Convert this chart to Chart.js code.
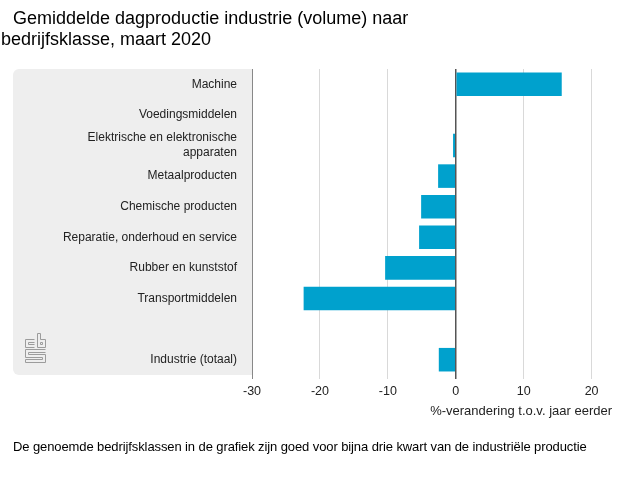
<!DOCTYPE html>
<html lang="nl">
<head>
    <meta charset="UTF-8">
    <title>Gemiddelde dagproductie industrie</title>
    <script src="https://cdn.jsdelivr.net/npm/chart.js"></script>
    <style>
        body { margin: 0; background: #fff; font-family: "Liberation Sans", Arial, sans-serif; }
        #wrap { position: relative; width: 640px; height: 480px; }
        #chart { position: absolute; left: 0; top: 0; }
        .title { position: absolute; font-size: 18px; line-height: 21px; color: #000; white-space: nowrap; }
        .note { position: absolute; left: 13px; top: 439px; font-size: 13px; letter-spacing: -0.1px; color: #000; white-space: nowrap; }
    </style>
</head>
<body>
<div id="wrap">
    <canvas id="chart" width="640" height="480"></canvas>
    <div class="title" style="left:13px; top:8px;">Gemiddelde dagproductie industrie (volume) naar</div>
    <div class="title" style="left:1px; top:29px;">bedrijfsklasse, maart 2020</div>
    <div class="note">De genoemde bedrijfsklassen in de grafiek zijn goed voor bijna drie kwart van de industriële productie</div>
</div>

<script>
    // Bedrijfsklassen (lege regel tussen Transportmiddelen en totaal)
    const categories = [
        'Machine',
        'Voedingsmiddelen',
        ['Elektrische en elektronische', 'apparaten'],
        'Metaalproducten',
        'Chemische producten',
        'Reparatie, onderhoud en service',
        'Rubber en kunststof',
        'Transportmiddelen',
        '',
        'Industrie (totaal)'
    ];

    // %-verandering t.o.v. jaar eerder
    const changes = [15.6, 0, -0.4, -2.6, -5.1, -5.4, -10.4, -22.4, null, -2.5];

    const xTicks = [-30, -20, -10, 0, 10, 20];
    const axisTitle = '%-verandering t.o.v. jaar eerder';

    // grey panel behind the category labels
    const panelPlugin = {
        id: 'panel',
        beforeDraw(chart) {
            const {ctx, chartArea} = chart;
            const yScale = chart.scales.y;
            const x0 = 13, x1 = yScale.right;
            const y0 = chartArea.top, y1 = chartArea.bottom;
            ctx.save();
            ctx.fillStyle = '#eeeeee';
            ctx.beginPath();
            ctx.roundRect(x0, y0, x1 - x0, y1 - y0, [6, 0, 0, 6]);
            ctx.fill();
            ctx.restore();
        }
    };

    // small cbs mark in the bottom-left corner of the panel
    const logoPlugin = {
        id: 'logo',
        afterDraw(chart) {
            const ctx = chart.ctx;
            ctx.save();
            ctx.strokeStyle = '#9c9c9c';
            ctx.lineWidth = 1;
            ctx.beginPath();
            // c
            ctx.moveTo(34.5, 339.5); ctx.lineTo(25.5, 339.5); ctx.lineTo(25.5, 347.5); ctx.lineTo(34.5, 347.5);
            ctx.moveTo(34.5, 342.5); ctx.lineTo(28.5, 342.5); ctx.lineTo(28.5, 344.5); ctx.lineTo(34.5, 344.5);
            // b
            ctx.moveTo(37.5, 333.5); ctx.lineTo(37.5, 347.5); ctx.lineTo(45.5, 347.5); ctx.lineTo(45.5, 339.5); ctx.lineTo(40.5, 339.5);
            ctx.lineTo(40.5, 333.5); ctx.lineTo(37.5, 333.5);
            ctx.rect(40.5, 342.5, 2, 2);
            // s
            ctx.moveTo(45.5, 349.5); ctx.lineTo(25.5, 349.5); ctx.lineTo(25.5, 357.5); ctx.lineTo(42.5, 357.5);
            ctx.lineTo(42.5, 359.5); ctx.lineTo(25.5, 359.5); ctx.lineTo(25.5, 362.5); ctx.lineTo(45.5, 362.5);
            ctx.lineTo(45.5, 354.5); ctx.lineTo(28.5, 354.5); ctx.lineTo(28.5, 352.5); ctx.lineTo(45.5, 352.5);
            ctx.stroke();
            ctx.restore();
        }
    };

    const ctx = document.getElementById('chart').getContext('2d');
    new Chart(ctx, {
        type: 'bar',
        data: {
            labels: categories,
            datasets: [{
                data: changes,
                backgroundColor: '#00a1cd',
                borderWidth: 0,
                categoryPercentage: 1,
                barPercentage: 0.77
            }]
        },
        options: {
            indexAxis: 'y',
            responsive: false,
            animation: false,
            devicePixelRatio: 1,
            layout: { padding: { top: 69, right: 28, left: 0, bottom: 55 } },
            plugins: {
                legend: { display: false },
                tooltip: { enabled: false }
            },
            scales: {
                x: {
                    min: -30,
                    max: 23,
                    afterBuildTicks(scale) {
                        scale.ticks = xTicks.map(v => ({ value: v }));
                    },
                    afterFit(scale) { scale.height = 50; },
                    border: { display: false },
                    grid: {
                        color: c => c.tick && c.tick.value === 0 ? '#555555' : (c.tick && c.tick.value === -30 ? '#888888' : '#d9d9d9'),
                        lineWidth: c => c.tick && c.tick.value === 0 ? 1.5 : 1,
                        tickLength: 4
                    },
                    ticks: {
                        color: '#222',
                        padding: 5,
                        font: { family: '"Liberation Sans", Arial, sans-serif', size: 12.5 }
                    },
                    title: {
                        display: true,
                        text: axisTitle,
                        align: 'end',
                        color: '#222',
                        padding: { top: 0, bottom: 6 },
                        font: { family: '"Liberation Sans", Arial, sans-serif', size: 13 }
                    }
                },
                y: {
                    afterFit(scale) { scale.width = 252; },
                    grid: { display: false },
                    border: { display: true, color: '#888888', width: 1 },
                    ticks: {
                        color: '#222',
                        padding: 7,
                        autoSkip: false,
                        font: { family: '"Liberation Sans", Arial, sans-serif', size: 12, lineHeight: 1.25 }
                    }
                }
            }
        },
        plugins: [panelPlugin, logoPlugin]
    });
</script>
</body>
</html>
